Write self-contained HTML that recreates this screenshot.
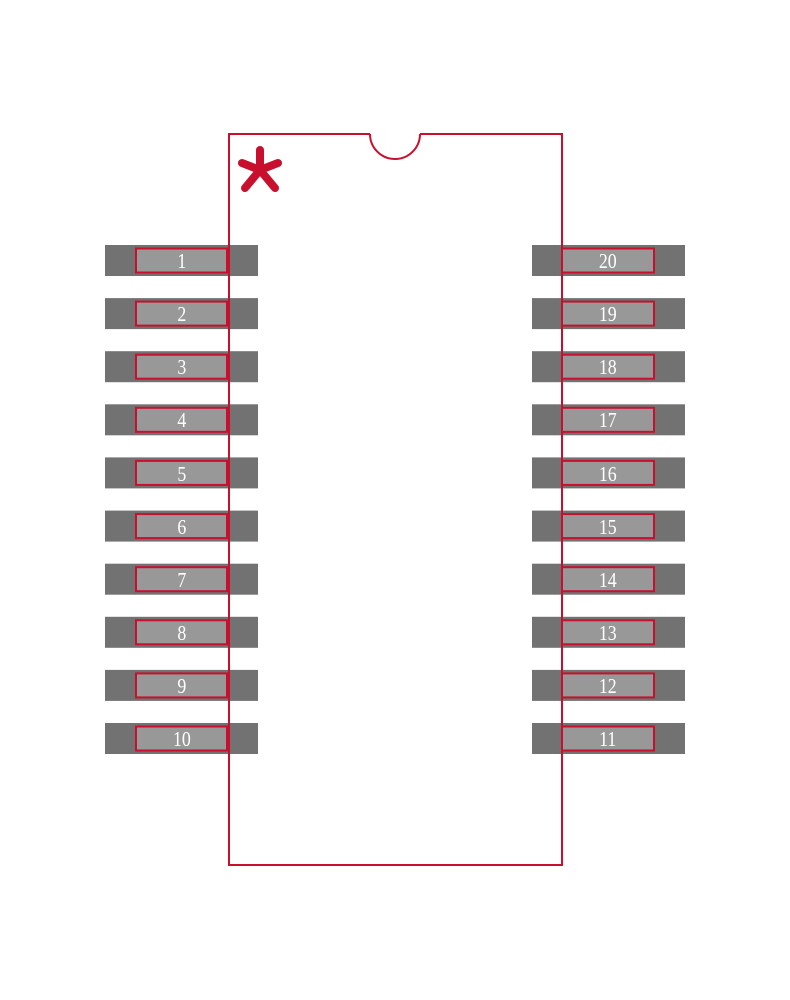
<!DOCTYPE html>
<html><head><meta charset="utf-8"><style>html,body{margin:0;padding:0;background:#fff;width:790px;height:1000px;overflow:hidden}svg{display:block}</style></head>
<body>
<svg width="790" height="1000" viewBox="0 0 790 1000" xmlns="http://www.w3.org/2000/svg">
<g fill="#727272">
<rect x="105" y="245" width="153" height="31"/><rect x="105" y="298.1" width="153" height="31"/><rect x="105" y="351.2" width="153" height="31"/><rect x="105" y="404.3" width="153" height="31"/><rect x="105" y="457.4" width="153" height="31"/><rect x="105" y="510.6" width="153" height="31"/><rect x="105" y="563.7" width="153" height="31"/><rect x="105" y="616.8" width="153" height="31"/><rect x="105" y="669.9" width="153" height="31"/><rect x="105" y="723" width="153" height="31"/>
<rect x="532" y="245" width="153" height="31"/><rect x="532" y="298.1" width="153" height="31"/><rect x="532" y="351.2" width="153" height="31"/><rect x="532" y="404.3" width="153" height="31"/><rect x="532" y="457.4" width="153" height="31"/><rect x="532" y="510.6" width="153" height="31"/><rect x="532" y="563.7" width="153" height="31"/><rect x="532" y="616.8" width="153" height="31"/><rect x="532" y="669.9" width="153" height="31"/><rect x="532" y="723" width="153" height="31"/>
</g>
<g fill="#989898" stroke="#c8102e" stroke-width="2">
<rect x="136" y="248.5" width="91" height="24"/><rect x="136" y="301.6" width="91" height="24"/><rect x="136" y="354.7" width="91" height="24"/><rect x="136" y="407.8" width="91" height="24"/><rect x="136" y="460.9" width="91" height="24"/><rect x="136" y="514.1" width="91" height="24"/><rect x="136" y="567.2" width="91" height="24"/><rect x="136" y="620.3" width="91" height="24"/><rect x="136" y="673.4" width="91" height="24"/><rect x="136" y="726.5" width="91" height="24"/>
<rect x="562" y="248.5" width="92" height="24"/><rect x="562" y="301.6" width="92" height="24"/><rect x="562" y="354.7" width="92" height="24"/><rect x="562" y="407.8" width="92" height="24"/><rect x="562" y="460.9" width="92" height="24"/><rect x="562" y="514.1" width="92" height="24"/><rect x="562" y="567.2" width="92" height="24"/><rect x="562" y="620.3" width="92" height="24"/><rect x="562" y="673.4" width="92" height="24"/><rect x="562" y="726.5" width="92" height="24"/>
</g>
<g fill="#fff" font-family="Liberation Serif, serif" font-size="21" text-anchor="middle" transform="scale(0.85,1)">
<text x="214" y="268">1</text><text x="214" y="321">2</text><text x="214" y="374">3</text><text x="214" y="427">4</text><text x="214" y="481">5</text><text x="214" y="534">6</text><text x="214" y="587">7</text><text x="214" y="640">8</text><text x="214" y="693">9</text><text x="214" y="746">10</text>
<text x="715" y="268">20</text><text x="715" y="321">19</text><text x="715" y="374">18</text><text x="715" y="427">17</text><text x="715" y="481">16</text><text x="715" y="534">15</text><text x="715" y="587">14</text><text x="715" y="640">13</text><text x="715" y="693">12</text><text x="715" y="746">11</text>
</g>
<g fill="none" stroke="#c8102e" stroke-width="2">
<path d="M370 134 L229 134 L229 865 L562 865 L562 134 L420 134"/>
<path d="M370 134 A25 25 0 0 0 420 134"/>
</g>
<g stroke="#c8102e" stroke-linecap="round" stroke-width="8">
<line x1="260" y1="170" x2="260" y2="150"/>
<line x1="260" y1="170" x2="242" y2="163"/>
<line x1="260" y1="170" x2="278" y2="163"/>
<line x1="260" y1="170" x2="245" y2="188"/>
<line x1="260" y1="170" x2="275" y2="188"/>
</g>
</svg>
</body></html>
